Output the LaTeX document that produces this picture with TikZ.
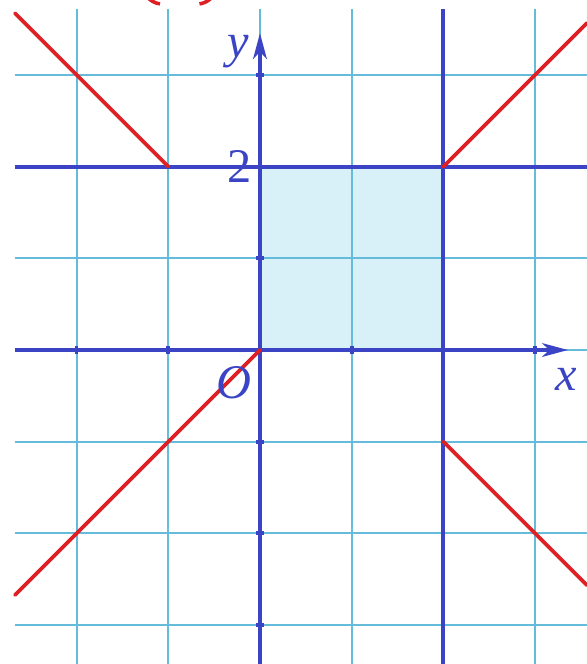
\documentclass[tikz,border=0pt]{standalone}
\usepackage{fontspec}
\setmainfont{Liberation Serif}
\usetikzlibrary{arrows.meta}
\definecolor{gridcyan}{RGB}{100,187,218}
\definecolor{axisblue}{RGB}{58,68,196}
\definecolor{graphred}{RGB}{222,32,36}
\definecolor{lightsquare}{RGB}{216,240,247}
\tikzset{
  gridline/.style={draw=gridcyan, line width=0.65pt},
  axisline/.style={draw=axisblue, line width=1.3pt},
  axisarrow/.style={axisline, -{Stealth[length=8pt,width=4.2pt,inset=2.2pt]}},
  redline/.style={draw=graphred, line width=1.15pt, line cap=round},
  ticklbl/.style={text=axisblue, font=\fontsize{15}{18}\selectfont, inner sep=0pt},
  tickmark/.style={draw=axisblue, line width=1.2pt},
}
\begin{document}
\begin{tikzpicture}[x=1cm,y=1cm]
\useasboundingbox (-2.835,-3.424) rectangle (3.566,3.817);
% shaded square
\fill[lightsquare] (0,0) rectangle (2,2);
% grid
\foreach \gx in {-2,-1,0,1,2,3}
  \draw[gridline] (\gx,3.719) -- (\gx,-3.424);
\foreach \gy in {3,2,1,0,-1,-2,-3}
  \draw[gridline] (-2.672,\gy) -- (3.566,\gy);
% blue lines x=2 and y=2
\draw[axisline] (2,3.719) -- (2,-3.424);
\draw[axisline] (-2.672,2) -- (3.566,2);
% axes
\coordinate (xs) at (-2.672,0);
\coordinate (xe) at (3.36,0);
\coordinate (ys) at (0,-3.424);
\coordinate (ye) at (0,3.457);
\draw[axisarrow] (xs) -- (xe);
\draw[axisarrow] (ys) -- (ye);
% ticks
\foreach \t in {3,1,-1,-2,-3}
  \draw[tickmark] (-0.04,\t) -- (0.04,\t);
\foreach \t in {-2,-1,1,3}
  \draw[tickmark] (\t,-0.04) -- (\t,0.04);
% red graph
\coordinate (A) at (-1,2);
\coordinate (A1) at (-2.672,3.672);
\coordinate (B) at (2,2);
\coordinate (B1) at (3.566,3.566);
\coordinate (C) at (0,0);
\coordinate (C1) at (-2.672,-2.672);
\coordinate (D) at (2,-1);
\coordinate (D1) at (3.566,-2.566);
\draw[redline] (A) -- (A1);
\draw[redline] (B) -- (B1);
\draw[redline] (C) -- (C1);
\draw[redline] (D) -- (D1);
% cut-off red parentheses at the top
\draw[draw=graphred, line width=1.1pt] (-1.21,3.83) .. controls (-1.17,3.795) and (-1.13,3.78) .. (-1.09,3.775);
\draw[draw=graphred, line width=1.1pt] (-0.66,3.775) .. controls (-0.62,3.78) and (-0.58,3.795) .. (-0.54,3.83);
% labels
\node[ticklbl] (ylab) at (-0.24,3.25) {\textit{y}};
\node[ticklbl] (xlab) at (3.337,-0.316) {\textit{x}};
\node[ticklbl] (olab) at (-0.284,-0.36) {\textit{O}};
\node[ticklbl] (two) at (-0.218,2.0) {2};
\end{tikzpicture}
\end{document}
